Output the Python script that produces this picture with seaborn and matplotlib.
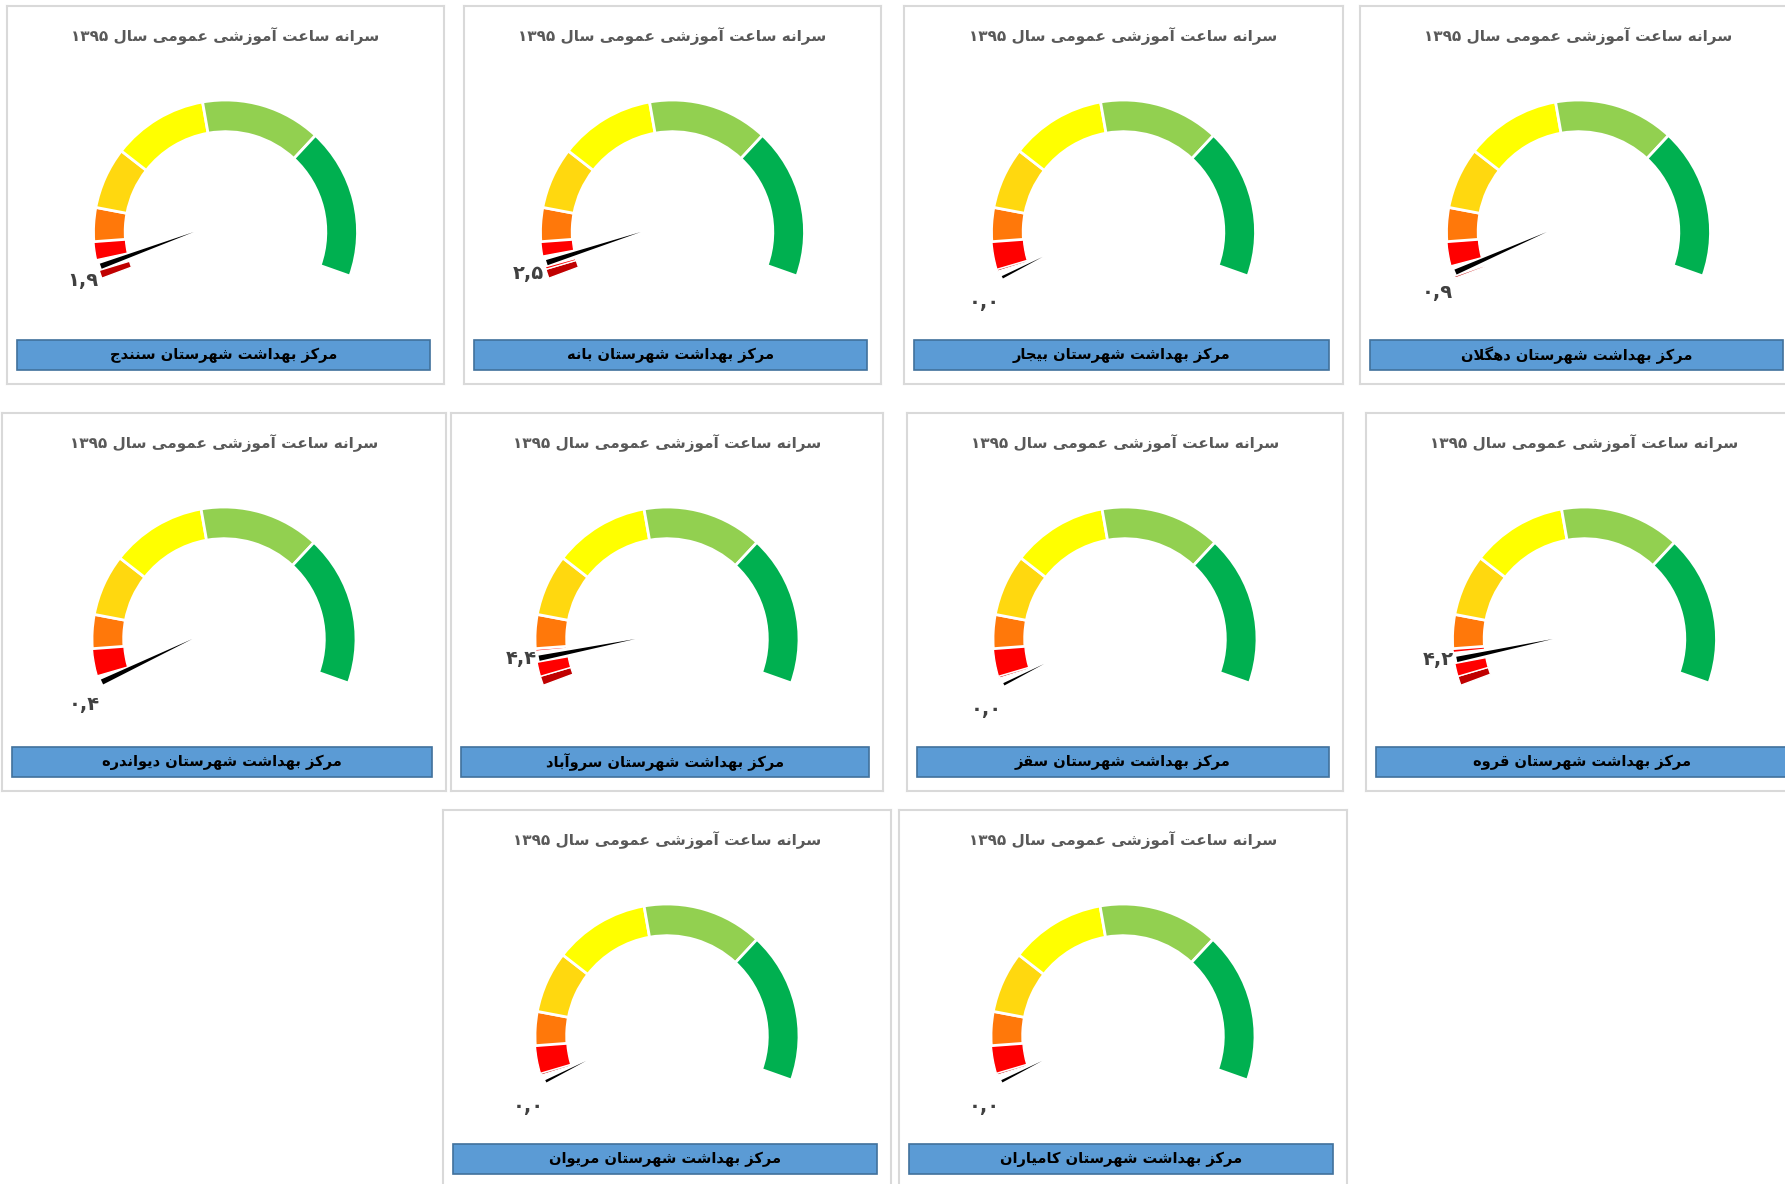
import numpy as np
import pandas as pd
import seaborn as sns
import matplotlib
matplotlib.use("Agg")
import matplotlib.pyplot as plt
from matplotlib.patches import Wedge, Rectangle, Polygon

# ---- data ----
districts = ["سنندج", "بانه", "بیجار", "دهگلان",
             "دیواندره", "سروآباد", "سقز", "قروه",
             "مریوان", "کامیاران"]
values = [1.9, 2.5, 0.0, 0.9, 0.4, 4.4, 0.0, 4.2, 0.0, 0.0]
zone_sizes = [1.5, 4.5, 5.5, 10, 15.5, 19.5, 24.5]
zone_colors = ["#C00000", "#FF0000", "#FF780A", "#FFD80F", "#FFFF00", "#92D050", "#00B050"]
title_text = "سرانه ساعت آموزشی عمومی سال ۱۳۹۵"
box_prefix = "مرکز بهداشت شهرستان"

# panel boxes in pixels: left, top, width, height
panels = [(7, 6, 437, 378), (464, 6, 417, 378), (904, 6, 439, 378), (1360, 6, 437, 378),
          (2, 413, 444, 378), (451, 413, 432, 378), (907, 413, 436, 378), (1366, 413, 437, 378),
          (443, 810, 448, 378), (899, 810, 448, 378)]

FW, FH = 1785, 1184

# ---- minimal persian shaping (matplotlib has no bidi/shaping) ----
BASE4 = {'ب': 0xFE8F, 'پ': 0xFB56, 'ت': 0xFE95, 'ث': 0xFE99, 'ج': 0xFE9D, 'چ': 0xFB7A,
         'ح': 0xFEA1, 'خ': 0xFEA5, 'س': 0xFEB1, 'ش': 0xFEB5, 'ص': 0xFEB9, 'ع': 0xFEC9,
         'غ': 0xFECD, 'ف': 0xFED1, 'ق': 0xFED5, 'ک': 0xFB8E, 'گ': 0xFB92, 'ل': 0xFEDD,
         'م': 0xFEE1, 'ن': 0xFEE5, 'ه': 0xFEE9, 'ی': 0xFBFC}
BASE2 = {'ا': 0xFE8D, 'آ': 0xFE81, 'د': 0xFEA9, 'ذ': 0xFEAB, 'ر': 0xFEAD, 'ز': 0xFEAF,
         'ژ': 0xFB8A, 'و': 0xFEED}


def shape_word(word):
    if all(c in "۰۱۲۳۴۵۶۷۸۹,." for c in word):
        return word
    out = []
    i = 0
    while i < len(word):
        c = word[i]
        prev = word[i - 1] if i > 0 else None
        jp = prev in BASE4
        if c == 'ل' and i + 1 < len(word) and word[i + 1] == 'ا':
            out.append(chr(0xFEFC if jp else 0xFEFB))
            i += 2
            continue
        nxt = word[i + 1] if i + 1 < len(word) else None
        if c in BASE4:
            jn = nxt in BASE4 or nxt in BASE2
            b = BASE4[c]
            out.append(chr(b + (3 if jp and jn else 1 if jp else 2 if jn else 0)))
        elif c in BASE2:
            out.append(chr(BASE2[c] + (1 if jp else 0)))
        else:
            out.append(c)
        i += 1
    return ''.join(reversed(out))


def fa(text):
    return ' '.join(shape_word(w) for w in reversed(text.split(' ')))


def fa_num(v):
    s = f"{v:.1f}".replace('.', ',')
    return s.translate(str.maketrans("0123456789", "۰۱۲۳۴۵۶۷۸۹"))


sns.set_theme(style="white")
plt.rcParams['font.family'] = ['DejaVu Sans']

fig = plt.figure(figsize=(FW / 100, FH / 100), dpi=100)
fig.patch.set_facecolor("white")

START, SPAN = 200.5, 220.0
k = SPAN / sum(zone_sizes)

for (px, py, pw, ph), name, val in zip(panels, districts, values):
    ax = fig.add_axes([px / FW, 1 - (py + ph) / FH, pw / FW, ph / FH])
    ax.set_xlim(0, pw)
    ax.set_ylim(0, ph)
    ax.set_xticks([])
    ax.set_yticks([])
    for sp in ax.spines.values():
        sp.set_color("#D9D9D9")
        sp.set_linewidth(1.5)

    ax.text(pw / 2, ph - 30, fa(title_text), ha='center', va='center',
            fontsize=11, fontweight='bold', color='#595959')

    cx, cy, R = pw / 2, ph - 226, 132
    w = 0.24 * R
    bounds = START - k * np.concatenate([[0], np.cumsum(zone_sizes)])
    a = START - k * val          # value angle on the gauge
    slot_lo, slot_hi = a - 3.2, a + 1.6
    for i, col in enumerate(zone_colors):
        hi, lo = bounds[i], bounds[i + 1]
        # cut the needle slot out of the ring
        parts = [(lo, hi)]
        if slot_lo < hi and slot_hi > lo:
            parts = [(lo, slot_lo), (slot_hi, hi)]
        for t1, t2 in parts:
            if t2 - t1 > 0.2:
                ax.add_patch(Wedge((cx, cy), R, t1, t2, width=w,
                                   fc=col, ec="white", lw=2 if i > 1 else 1.0))

    # needle
    piv = np.array([cx - 0.24 * R, cy])
    tip = np.array([cx + 0.98 * R * np.cos(np.radians(a)), cy + 0.98 * R * np.sin(np.radians(a))])
    hw = 2.7 if val > 0 else 1.3
    if val == 0:
        piv = tip + (piv - tip) * 0.45
    d = (tip - piv) / np.linalg.norm(tip - piv)
    nrm = np.array([-d[1], d[0]])
    ax.add_patch(Polygon([piv, tip + nrm * hw, tip - nrm * hw], closed=True,
                         fc="black", ec="none"))
    drop = (cy - tip[1]) - 20
    ax.text(tip[0] - 18, tip[1] - max(drop, 0), fa_num(val), ha='center', va='center',
            fontsize=14, fontweight='bold', color='#404040')

    ax.add_patch(Rectangle((10, ph - 364), pw - 24, 30, fc="#5B9BD5", ec="#41719C", lw=1.2))
    ax.text(10 + (pw - 24) / 2, ph - 349, fa(box_prefix + " " + name), ha='center',
            va='center', fontsize=10.5, fontweight='bold', color='black')

fig.savefig("out.png", dpi=100, facecolor="white")
